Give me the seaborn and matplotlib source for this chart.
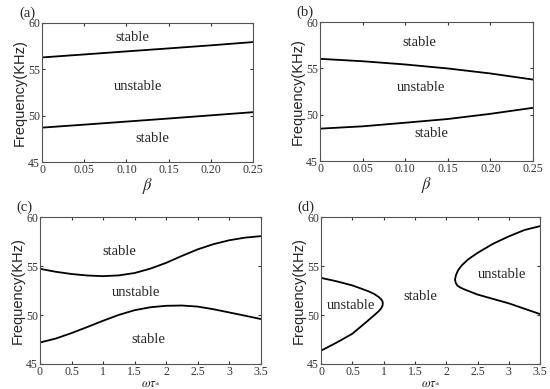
import matplotlib
matplotlib.use("Agg")
import matplotlib.pyplot as plt
import seaborn as sns

# (a) frequency boundaries vs beta
beta_a = [0.0, 0.05, 0.10, 0.15, 0.20, 0.25]
upper_a = [56.25, 56.57, 56.9, 57.22, 57.55, 57.9]
lower_a = [48.7, 49.02, 49.35, 49.68, 50.02, 50.36]

# (b) frequency boundaries vs beta
beta_b = [0.0, 0.05, 0.10, 0.15, 0.20, 0.25]
upper_b = [56.04, 55.78, 55.43, 55.0, 54.46, 53.8]
lower_b = [48.5, 48.75, 49.14, 49.54, 50.1, 50.75]

# (c) frequency boundaries vs omega*tau
wt_c = [0.0, 0.25, 0.5, 0.75, 1.0, 1.25, 1.5, 1.75, 2.0, 2.25, 2.5, 2.75, 3.0, 3.25, 3.5]
upper_c = [54.73, 54.43, 54.2, 54.05, 53.98, 54.06, 54.3, 54.75, 55.34, 56.05, 56.72, 57.25, 57.65, 57.92, 58.07]
lower_c = [47.2, 47.6, 48.16, 48.78, 49.42, 50.02, 50.5, 50.8, 50.95, 50.98, 50.87, 50.6, 50.27, 49.94, 49.6]

# (d) closed boundaries (parametric: frequency along the curve)
wt_d1 = [0.0, 0.25, 0.5, 0.75, 0.85, 0.92, 0.96, 0.98, 0.985, 0.98, 0.96, 0.92, 0.85, 0.75, 0.5, 0.25, 0.0]
freq_d1 = [53.8, 53.45, 53.03, 52.45, 52.15, 51.85, 51.6, 51.4, 51.2, 50.95, 50.7, 50.4, 50.0, 49.45, 48.1, 47.2, 46.37]
wt_d2 = [3.5, 3.25, 3.0, 2.75, 2.5, 2.35, 2.25, 2.19, 2.155, 2.14, 2.15, 2.18, 2.23, 2.3, 2.5, 2.75, 3.0, 3.25, 3.5]
freq_d2 = [59.1, 58.7, 58.05, 57.3, 56.36, 55.7, 55.1, 54.6, 54.1, 53.64, 53.3, 53.0, 52.8, 52.6, 52.1, 51.65, 51.2, 50.65, 50.1]

region_labels = {
    "a": [(0.107, 58.4, "stable"), (0.114, 53.1, "unstable"), (0.131, 47.5, "stable")],
    "b": [(0.117, 57.85, "stable"), (0.119, 52.9, "unstable"), (0.131, 48.0, "stable")],
    "c": [(1.26, 56.5, "stable"), (1.52, 52.35, "unstable"), (1.72, 47.55, "stable")],
    "d": [(0.48, 51.0, "unstable"), (1.59, 51.9, "stable"), (2.89, 54.2, "unstable")],
}

sns.set_style("ticks")
plt.rcParams["font.family"] = ["Liberation Serif", "DejaVu Serif"]
plt.rcParams["mathtext.fontset"] = "stix"

fig = plt.figure(figsize=(5.5, 3.89), dpi=100)
axes = {
    "a": fig.add_axes([0.0764, 0.5835, 0.3836, 0.3585]),
    "b": fig.add_axes([0.582, 0.586, 0.387, 0.357]),
    "c": fig.add_axes([0.0727, 0.0643, 0.4013, 0.3771]),
    "d": fig.add_axes([0.584, 0.0643, 0.398, 0.3771]),
}

line_kw = dict(color="black", linewidth=1.3, sort=False, estimator=None, legend=False)

sns.lineplot(x=beta_a, y=upper_a, ax=axes["a"], **line_kw)
sns.lineplot(x=beta_a, y=lower_a, ax=axes["a"], **line_kw)
sns.lineplot(x=beta_b, y=upper_b, ax=axes["b"], **line_kw)
sns.lineplot(x=beta_b, y=lower_b, ax=axes["b"], **line_kw)
sns.lineplot(x=wt_c, y=upper_c, ax=axes["c"], **line_kw)
sns.lineplot(x=wt_c, y=lower_c, ax=axes["c"], **line_kw)
sns.lineplot(x=wt_d1, y=freq_d1, ax=axes["d"], **line_kw)
sns.lineplot(x=wt_d2, y=freq_d2, ax=axes["d"], **line_kw)

for key, ax in axes.items():
    ax.set_ylim(45, 60)
    ax.set_yticks([45, 50, 55, 60])
    if key in ("a", "b"):
        ax.set_xlim(0, 0.25)
        ax.set_xticks([0, 0.05, 0.10, 0.15, 0.20, 0.25])
        ax.set_xticklabels(["0", "0.05", "0.10", "0.15", "0.20", "0.25"])
        ax.set_xlabel(r"$\beta$", fontsize=12, labelpad=0)
    else:
        ax.set_xlim(0, 3.5)
        ax.set_xticks([0, 0.5, 1, 1.5, 2, 2.5, 3, 3.5])
        ax.set_xticklabels(["0", "0.5", "1", "1.5", "2", "2.5", "3", "3.5"])
        ax.set_xlabel(r"$\omega\tau_{*}$", fontsize=9, labelpad=-1)
    ax.tick_params(direction="in", top=True, right=True, length=2.5, width=0.8,
                   labelsize=8.5, pad=1.5, colors="#333333")
    for spine in ax.spines.values():
        spine.set_visible(True)
        spine.set_linewidth(0.8)
        spine.set_color("#555555")
    ax.set_ylabel("Frequency(KHz)", family=["Liberation Sans", "DejaVu Sans"],
                  fontsize=10.5, labelpad=1)
    for x, y, txt in region_labels[key]:
        ax.text(x, y, txt, ha="center", va="center", fontsize=10.5)
    ax.text(-0.07, 1.07, f"({key})", transform=ax.transAxes, ha="center",
            va="center", fontsize=10.5)

fig.savefig("out.png", dpi=100)
